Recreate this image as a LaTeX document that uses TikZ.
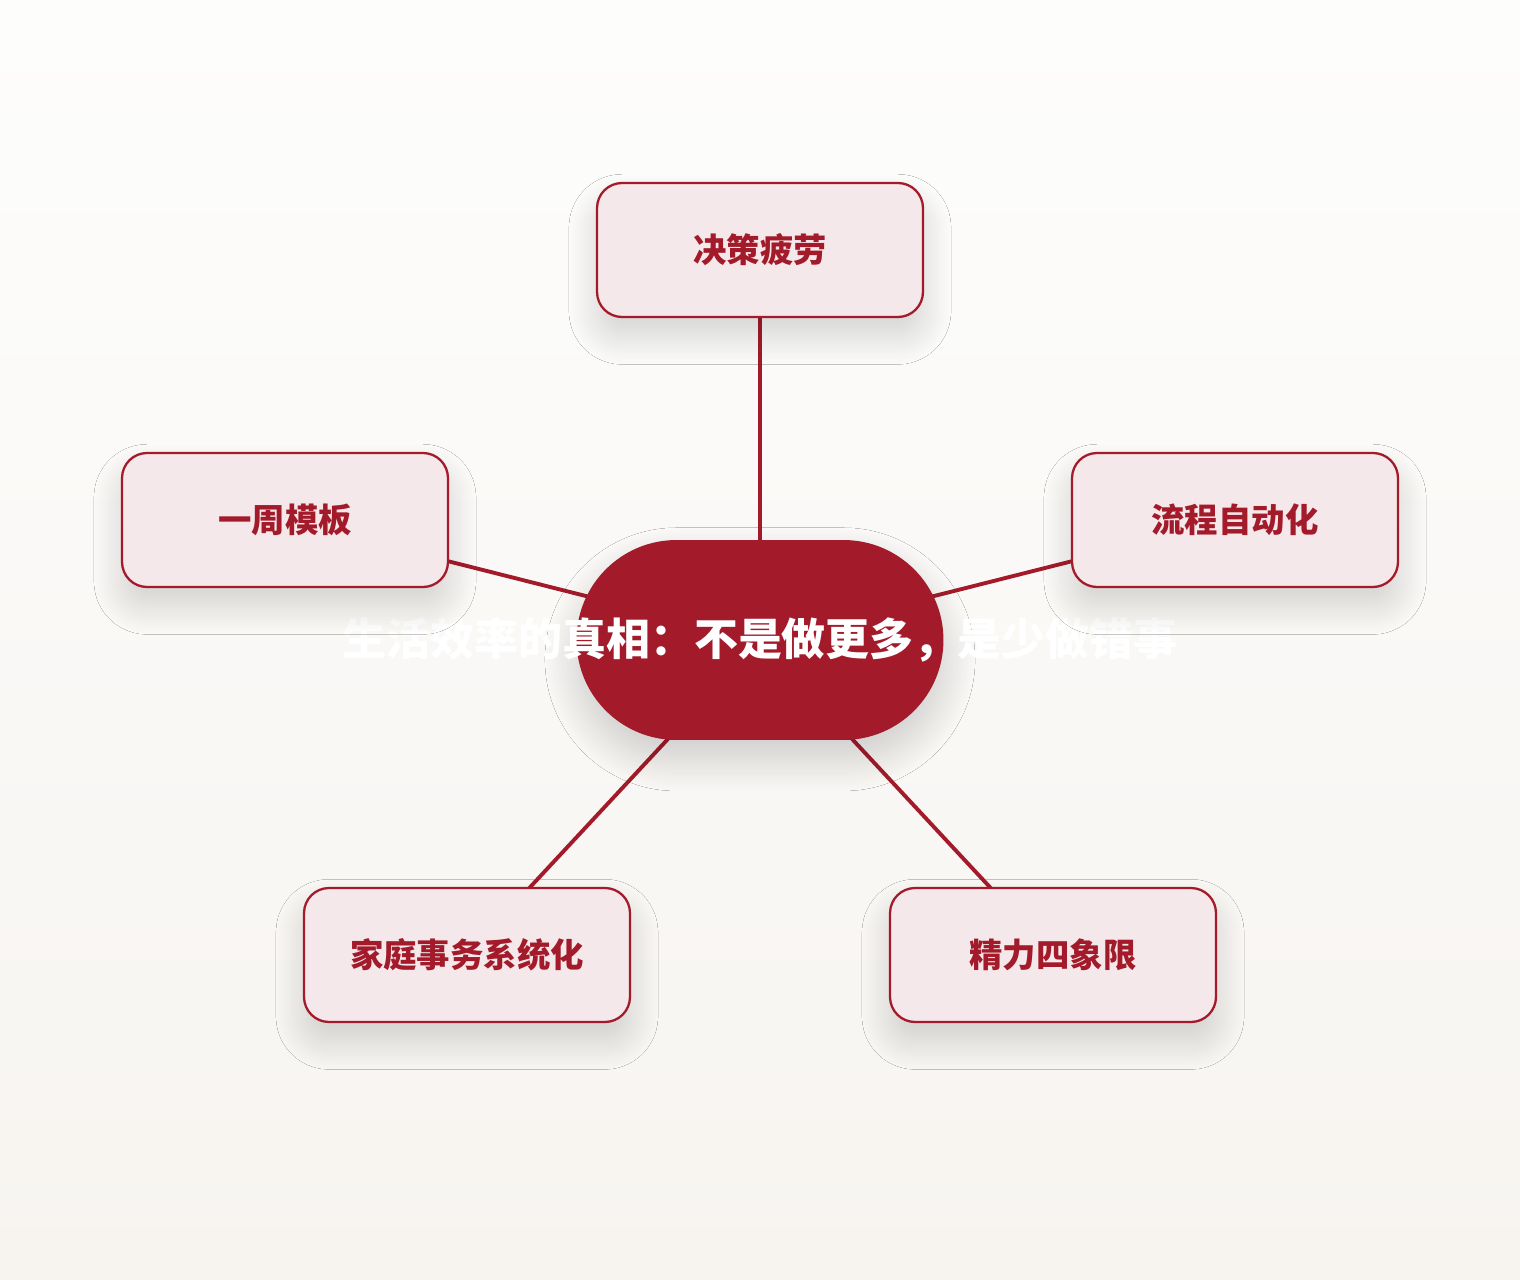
\documentclass[tikz,border=0pt]{standalone}
\usepackage{fontspec}
\newfontfamily\cjk{Noto Sans CJK SC}
\usetikzlibrary{positioning,calc,backgrounds,shadows.blur}
\definecolor{deepred}{RGB}{163, 27, 42}
\definecolor{palerose}{RGB}{245, 232, 235}
\definecolor{papertop}{RGB}{253, 253, 252}
\definecolor{paperbottom}{RGB}{247, 244, 240}
\tikzset{
  topic/.style={draw=deepred,line width=1.3pt,fill=palerose,rounded corners=0.5cm,
    minimum width=6.52cm,minimum height=2.68cm,text=deepred,
    font=\cjk\bfseries\fontsize{19}{19}\selectfont,
    blur shadow={shadow xshift=0pt,shadow yshift=-11pt,shadow blur radius=16pt,
      shadow blur steps=30,shadow opacity=16}},
  hub/.style={fill=deepred,rounded corners=2cm,minimum width=7.34cm,minimum height=4cm,
    text=white,font=\cjk\bfseries\fontsize{25}{25}\selectfont,
    blur shadow={shadow xshift=0pt,shadow yshift=-11pt,shadow blur radius=18pt,
      shadow blur steps=30,shadow opacity=18}},
  link/.style={draw=deepred,line width=2.2pt,line cap=round}
}
\begin{document}
\begin{tikzpicture}[x=0.02cm,y=-0.02cm]
  \useasboundingbox (0,0) rectangle (1520,1280);
  % centre
  \node[hub] (core) at (760,640) {\makebox[0pt]{生活效率的真相：不是做更多，是少做错事}};
  % branches
  \node[topic] (fatigue)  at (760,250)  {决策疲劳};
  \node[topic] (week)     at (285,520)  {一周模板};
  \node[topic] (auto)     at (1235,520) {流程自动化};
  \node[topic] (home)     at (467,955)  {家庭事务系统化};
  \node[topic] (energy)   at (1053,955) {精力四象限};
  \begin{pgfonlayer}{background}
    \shade[top color=papertop,bottom color=paperbottom] (0,0) rectangle (1520,1280);
    \foreach \b in {fatigue,week,auto,home,energy}
      \draw[link] (core.center) -- (\b.center);
  \end{pgfonlayer}
\end{tikzpicture}
\end{document}
